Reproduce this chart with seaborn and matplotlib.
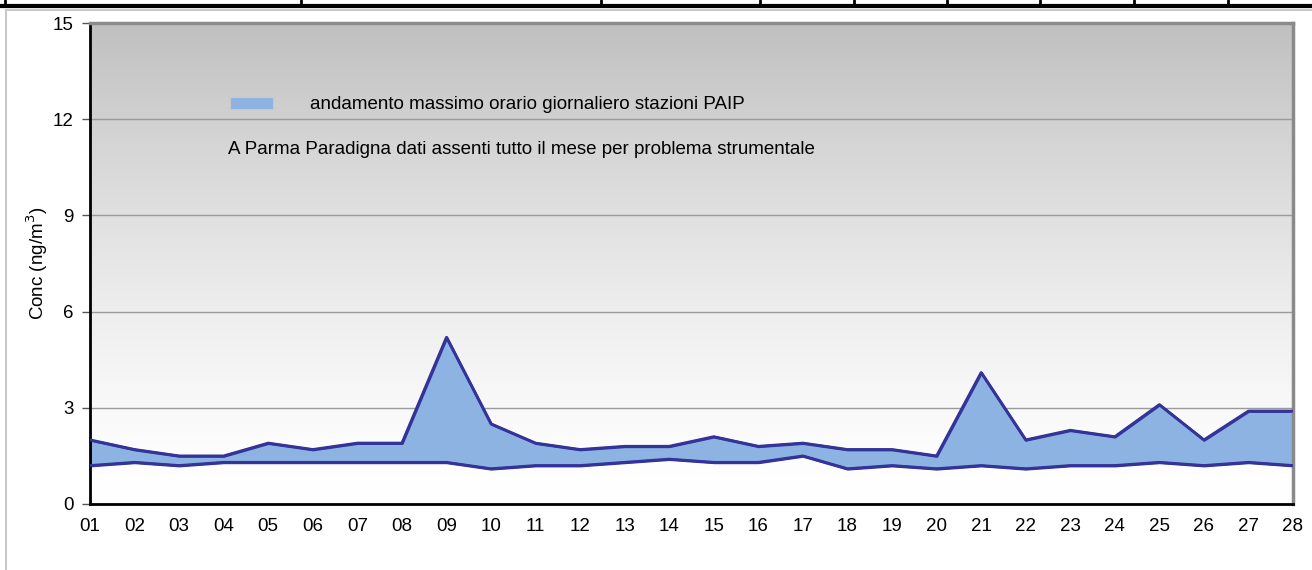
import numpy as np
import pandas as pd
import matplotlib
matplotlib.use("Agg")
import matplotlib.pyplot as plt
from matplotlib.patches import Patch, Rectangle
from matplotlib.lines import Line2D
import seaborn as sns

# dati (ng/m3)
giorni = list(range(1, 29))
etichette_giorni = [f"{g:02d}" for g in giorni]
massimo = [2.0, 1.7, 1.5, 1.5, 1.9, 1.7, 1.9, 1.9, 5.2, 2.5, 1.9, 1.7, 1.8, 1.8,
           2.1, 1.8, 1.9, 1.7, 1.7, 1.5, 4.1, 2.0, 2.3, 2.1, 3.1, 2.0, 2.9, 2.9]
minimo = [1.2, 1.3, 1.2, 1.3, 1.3, 1.3, 1.3, 1.3, 1.3, 1.1, 1.2, 1.2, 1.3, 1.4,
          1.3, 1.3, 1.5, 1.1, 1.2, 1.1, 1.2, 1.1, 1.2, 1.2, 1.3, 1.2, 1.3, 1.2]
tick_y = [0, 3, 6, 9, 12, 15]

df = pd.DataFrame({"giorno": giorni, "max": massimo, "min": minimo})

sns.set_style("white")
plt.rcParams["font.family"] = ["Liberation Sans", "DejaVu Sans"]
plt.rcParams["text.color"] = "black"
plt.rcParams["axes.labelcolor"] = "black"
plt.rcParams["xtick.labelcolor"] = "black"
plt.rcParams["ytick.labelcolor"] = "black"
fs = 13.5

fig = plt.figure(figsize=(13.12, 5.70), dpi=100)
ax = fig.add_axes([90 / 1312, 1 - 504 / 570, (1293 - 90) / 1312, (504 - 23) / 570])

# sfondo a gradiente grigio -> bianco
t = np.linspace(0, 1, 256) ** 1.4
grad = t.reshape(-1, 1)
cmap = matplotlib.colors.LinearSegmentedColormap.from_list("g", ["#ffffff", "#c0c0c0"])
ax.imshow(grad, extent=[1, 28, 0, 15], origin="lower", aspect="auto", cmap=cmap, zorder=0)

for v in tick_y[1:-1]:
    ax.axhline(v, color="#9a9a9a", lw=1, zorder=1)

blu = "#333399"
ax.fill_between(df["giorno"], df["min"], df["max"], facecolor="#8db3e2",
                edgecolor=blu, lw=2, zorder=2)
sns.lineplot(data=df, x="giorno", y="max", color=blu, lw=2, ax=ax, zorder=3)
sns.lineplot(data=df, x="giorno", y="min", color=blu, lw=2, ax=ax, zorder=3)

ax.set_xlim(1, 28)
ax.set_ylim(0, 15)
ax.set_xticks(giorni)
ax.set_xticklabels(etichette_giorni, fontsize=fs)
ax.set_yticks(tick_y)
ax.set_yticklabels([str(t) for t in tick_y], fontsize=fs)
ax.tick_params(axis="x", length=0, pad=10)
ax.tick_params(axis="y", length=6, width=1, color="#555555", pad=6, left=True)
ax.set_xlabel("")
ax.set_ylabel("Conc (ng/m$^3$)", fontsize=fs, labelpad=2)

for s in ["left", "bottom"]:
    ax.spines[s].set_color("black")
    ax.spines[s].set_linewidth(2)
for s in ["top", "right"]:
    ax.spines[s].set_color("#8a8a8a")
    ax.spines[s].set_linewidth(2.5)

leg = ax.legend(handles=[Patch(facecolor="#8db3e2", edgecolor="#c8c8c8", lw=0.8)],
                labels=["andamento massimo orario giornaliero stazioni PAIP"],
                loc="center left", bbox_to_anchor=(0.102, 0.830), frameon=False,
                fontsize=fs, handlelength=2.3, handleheight=0.6, handletextpad=2.0)
ax.text(0.1147, 0.736, "A Parma Paradigna dati assenti tutto il mese per problema strumentale",
        transform=ax.transAxes, fontsize=fs, va="center", ha="left")

# bordo esterno del grafico
fig.patches.append(Rectangle((6 / 1312, -0.05), 1.1, 1 - 10 / 570 + 0.05,
                             transform=fig.transFigure, fill=False,
                             edgecolor="#c8c8c8", lw=1.5))

# riga di tabella tagliata in alto
fig.add_artist(Line2D([0, 1], [1 - 6 / 570, 1 - 6 / 570], transform=fig.transFigure,
                      color="black", lw=3))
for xd in [5, 301, 601, 760, 854, 947, 1040, 1134, 1228]:
    fig.add_artist(Line2D([xd / 1312, xd / 1312], [1 - 6 / 570, 1.0],
                          transform=fig.transFigure, color="black", lw=2))

fig.savefig("out.png", dpi=100)
